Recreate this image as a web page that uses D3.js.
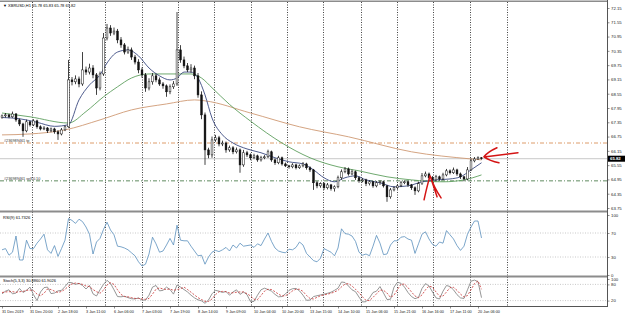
<!DOCTYPE html>
<html>
<head>
<meta charset="utf-8">
<script src="https://cdn.jsdelivr.net/npm/d3@7"></script>
<style>
body { margin: 0; background: #fff; }
svg { display: block; font-family: "Liberation Sans", Arial, sans-serif; }
</style>
</head>
<body>
<div id="chart"></div>
<script>
// XBRUSD H1 chart, one candle per 2 hours
const firstOpen = 67.55;
const closes = [
  67.62, 67.66, 67.58, 67.70, 67.45, 67.28, 66.99, 67.37, 67.24, 67.41,
  67.16, 67.07, 67.11, 66.99, 67.07, 66.95, 66.86, 67.03, 67.16, 69.13,
  69.05, 69.17, 68.96, 69.55, 69.46, 69.63, 69.34, 68.79, 69.38, 70.89,
  71.31, 71.10, 71.18, 70.81, 70.60, 70.30, 70.39, 70.09, 69.88, 69.55,
  69.34, 68.79, 69.05, 69.30, 69.13, 68.96, 68.88, 68.63, 68.84, 68.96,
  70.39, 69.97, 69.72, 69.55, 69.63, 69.30, 68.50, 67.66, 66.19, 65.98,
  66.61, 66.70, 66.44, 66.48, 66.19, 66.28, 66.11, 66.19, 65.56, 66.07,
  65.98, 65.86, 65.94, 65.77, 65.86, 65.90, 66.11, 65.77, 65.65, 65.86,
  65.60, 65.52, 65.48, 65.56, 65.44, 65.52, 65.60, 65.44, 65.35, 64.81,
  64.68, 64.77, 64.60, 64.72, 64.56, 64.64, 65.02, 65.27, 65.39, 65.18,
  65.27, 65.02, 64.89, 64.93, 64.77, 64.85, 64.68, 64.81, 64.85, 64.68,
  64.22, 64.51, 64.60, 64.68, 64.81, 64.85, 64.72, 64.60, 64.47, 64.77,
  65.10, 65.18, 65.02, 64.93, 65.06, 64.97, 65.14, 65.31, 65.23, 65.35,
  65.18, 65.06, 64.97, 65.35, 65.73, 65.81, 65.86, 65.82
];
// upper / lower shadows in cents
const wickUp = [
  6, 8, 5, 10, 4, 6, 5, 9, 4, 7, 5, 6, 8, 4, 6, 5, 7, 8, 6, 84,
  12, 15, 10, 75, 14, 18, 12, 8, 10, 21, 17, 12, 15, 9, 12, 8, 14, 10, 9, 12,
  10, 8, 15, 12, 9, 10, 8, 6, 10, 12, 159, 20, 14, 12, 16, 10, 12, 15, 10, 9,
  14, 12, 8, 10, 6, 9, 7, 10, 6, 12, 8, 6, 9, 5, 8, 7, 9, 5, 6, 8,
  5, 6, 4, 7, 5, 6, 8, 5, 6, 4, 7, 6, 5, 8, 4, 6, 9, 10, 8, 6,
  9, 5, 6, 7, 5, 6, 4, 7, 6, 5, 4, 8, 6, 7, 8, 6, 5, 4, 6, 9,
  12, 10, 6, 7, 8, 5, 9, 8, 6, 10, 5, 6, 4, 12, 10, 8, 6, 3
];
const wickDn = [
  5, 7, 6, 4, 8, 9, 25, 6, 7, 5, 8, 6, 5, 9, 6, 8, 25, 6, 5, 4,
  15, 10, 14, 8, 12, 10, 14, 29, 10, 8, 10, 12, 9, 14, 12, 10, 8, 12, 10, 14,
  12, 16, 10, 12, 10, 8, 12, 21, 10, 9, 8, 12, 10, 9, 12, 14, 12, 18, 63, 14,
  12, 8, 10, 9, 12, 8, 10, 7, 33, 8, 9, 10, 6, 8, 7, 6, 5, 8, 9, 6,
  7, 5, 8, 6, 7, 5, 6, 8, 9, 30, 10, 8, 9, 7, 8, 12, 6, 8, 6, 7,
  5, 9, 8, 6, 10, 7, 8, 6, 9, 7, 21, 8, 6, 7, 5, 6, 8, 9, 17, 6,
  5, 6, 8, 7, 6, 8, 5, 6, 7, 5, 8, 9, 10, 6, 5, 6, 4, 4
];

// moving averages, sampled at bar indexes
const fastBars = [0, 5, 10, 15, 19, 22, 25, 28, 30, 33, 36, 39, 42, 45, 48, 50, 52, 54, 56, 58, 60, 63, 66, 70, 74, 78, 82, 86, 89, 92, 95, 98, 101, 104, 108, 112, 116, 120, 124, 128, 131, 134, 137];
const fastVals = [67.55, 67.50, 67.35, 67.18, 67.25, 68.29, 68.92, 69.34, 69.84, 70.30, 70.39, 70.14, 69.63, 69.30, 69.13, 69.21, 69.46, 69.46, 69.21, 68.50, 67.53, 66.82, 66.48, 66.23, 66.07, 65.86, 65.69, 65.60, 65.35, 65.02, 64.85, 65.02, 65.10, 64.93, 64.81, 64.64, 64.68, 64.85, 64.93, 64.97, 65.06, 65.35, 65.65];
const midBars = [0, 8, 19, 24, 29, 33, 37, 42, 50, 54, 57, 60, 65, 71, 80, 88, 96, 102, 110, 117, 126, 132, 137];
const midVals = [67.74, 67.58, 67.32, 67.80, 68.42, 68.84, 69.21, 69.38, 69.38, 69.38, 69.21, 68.80, 68.10, 67.40, 66.48, 65.86, 65.48, 65.31, 65.06, 64.93, 64.85, 64.93, 65.14];
const slowBars = [0, 8, 18, 28, 37, 47, 55, 58, 71, 85, 99, 117, 134, 137];
const slowVals = [66.82, 66.86, 67.03, 67.45, 67.87, 68.12, 68.29, 68.25, 67.74, 67.16, 66.74, 66.11, 65.81, 65.77];

const rsiVals = [
  42, 44, 33, 38, 65, 25, 25, 58, 44, 44, 53, 60, 68, 42, 36, 49, 31, 44, 58, 94,
  91, 86, 93, 89, 80, 68, 35, 55, 61, 76, 88, 75, 67, 48, 47, 45, 42, 37, 32, 22,
  15, 18, 35, 63, 52, 38, 40, 50, 61, 50, 83, 58, 57, 57, 48, 40, 32, 33, 18, 30,
  38, 41, 39, 42, 46, 40, 50, 45, 53, 48, 49, 50, 46, 52, 49, 60, 70, 56, 45, 40,
  38, 37, 43, 42, 46, 55, 50, 36, 30, 24, 22, 28, 44, 41, 38, 32, 45, 77, 69, 68,
  65, 56, 38, 33, 35, 32, 48, 66, 53, 34, 35, 50, 57, 57, 63, 64, 60, 58, 36, 52,
  68, 72, 60, 51, 48, 55, 53, 74, 67, 60, 49, 41, 48, 68, 80, 90, 90, 61.7
];
const stochMain = [
  45, 55, 60, 45, 48, 65, 50, 58, 70, 42, 20, 52, 68, 70, 46, 48, 56, 58, 72, 88,
  86, 80, 84, 76, 63, 76, 45, 37, 60, 80, 95, 84, 60, 35, 34, 36, 31, 27, 26, 30,
  22, 22, 40, 70, 76, 56, 58, 70, 61, 44, 78, 70, 61, 52, 40, 30, 23, 19, 10, 22,
  45, 58, 55, 50, 54, 40, 52, 60, 43, 52, 42, 16, 17, 40, 60, 66, 61, 55, 43, 34,
  35, 45, 58, 64, 65, 56, 40, 21, 22, 35, 38, 41, 44, 47, 51, 58, 66, 89, 87, 74,
  60, 53, 33, 15, 16, 30, 50, 55, 72, 48, 24, 25, 70, 88, 84, 70, 50, 35, 27, 32,
  65, 83, 74, 52, 30, 26, 55, 76, 72, 60, 42, 30, 28, 60, 92, 96, 90, 30.9
];
const stochSignal = [
  50, 52, 53, 53, 51, 53, 54, 58, 59, 57, 44, 38, 47, 63, 61, 55, 50, 54, 62, 73,
  82, 85, 83, 80, 74, 72, 61, 53, 47, 59, 78, 86, 80, 60, 43, 35, 34, 31, 28, 28,
  26, 25, 28, 44, 62, 67, 63, 61, 63, 58, 61, 64, 70, 61, 51, 41, 31, 24, 17, 17,
  26, 42, 53, 54, 53, 48, 49, 51, 52, 52, 46, 37, 25, 24, 39, 55, 62, 61, 53, 44,
  37, 38, 46, 56, 62, 62, 54, 39, 28, 26, 32, 38, 41, 44, 47, 52, 58, 71, 81, 83,
  74, 62, 49, 34, 21, 20, 32, 45, 59, 58, 48, 32, 40, 61, 81, 81, 68, 52, 37, 31,
  41, 60, 74, 70, 52, 36, 37, 52, 68, 69, 58, 44, 33, 39, 60, 83, 93, 61.9
];

const priceTicks = [72.15, 71.55, 70.95, 70.35, 69.75, 69.15, 68.55, 67.95, 67.35, 66.75, 66.15, 65.55, 64.95, 64.35, 63.75];
const rsiTicks = [100, 70, 30, 0];
const stochTicks = [100, 80, 20];
const timeLabels = ['31 Dec 2019', '31 Dec 20:00', '2 Jan 18:00', '3 Jan 11:00', '6 Jan 06:00', '7 Jan 03:00',
  '7 Jan 19:00', '8 Jan 14:00', '9 Jan 09:00', '10 Jan 04:00', '10 Jan 20:00', '13 Jan 15:00',
  '14 Jan 10:00', '15 Jan 06:00', '15 Jan 21:00', '16 Jan 16:00', '17 Jan 11:00', '20 Jan 06:00'];
const timeLabelBars = [0, 8, 16, 24, 32, 40, 48, 56, 64, 72, 80, 88, 96, 104, 112, 120, 128, 136];
const gridBars = [8.6, 19, 29.4, 40, 50.3, 60.6, 71.1, 81.4, 91.7, 102.6, 112.9, 123.1, 133.7, 144.3];

const tpPrice = 66.48, openPrice = 64.89, bidPrice = 65.82;

// ---- layout
const W = 625, H = 317;
const axisX = 607;
const mainTop = 2, mainBot = 210.5;
const rsiTop = 212.5, rsiBot = 275.5;
const stoTop = 277.5, stoBot = 306;

const svg = d3.select('#chart').append('svg').attr('width', W).attr('height', H);
svg.append('rect').attr('width', W).attr('height', H).attr('fill', '#fff');

const x = d3.scaleLinear().domain([0, 137]).range([2, 481.5]);
const y = d3.scaleLinear().domain([63.75, 72.15]).range([208, 8]);
const yRsi = d3.scaleLinear().domain([0, 100]).range([275, 215]);
const ySto = d3.scaleLinear().domain([0, 100]).range([306, 279]);

const defs = svg.append('defs');
[['clipMain', mainTop, mainBot], ['clipRsi', rsiTop, rsiBot], ['clipSto', stoTop, stoBot]].forEach(([id, t, b]) => {
    defs.append('clipPath').attr('id', id).append('rect')
        .attr('x', 0).attr('y', t).attr('width', axisX).attr('height', b - t);
});

// vertical dotted grid
svg.append('g').selectAll('line')
    .data(gridBars)
    .join('line')
    .attr('x1', d => Math.round(x(d)) + 0.5)
    .attr('x2', d => Math.round(x(d)) + 0.5)
    .attr('y1', mainTop).attr('y2', stoBot)
    .attr('stroke', '#444')
    .attr('stroke-width', 1)
    .attr('stroke-dasharray', '1,1.5');

// main panel
const main = svg.append('g').attr('clip-path', 'url(#clipMain)');

// trade levels and bid line
main.append('line')
    .attr('x1', 0).attr('x2', axisX)
    .attr('y1', y(bidPrice)).attr('y2', y(bidPrice))
    .attr('stroke', '#c8c8c8').attr('stroke-width', 1);
main.append('line')
    .attr('x1', 0).attr('x2', axisX)
    .attr('y1', y(tpPrice)).attr('y2', y(tpPrice))
    .attr('stroke', '#d9915a').attr('stroke-width', 0.9)
    .attr('stroke-dasharray', '4,2,1,2');
main.append('line')
    .attr('x1', 0).attr('x2', axisX)
    .attr('y1', y(openPrice)).attr('y2', y(openPrice))
    .attr('stroke', '#4f7f4f').attr('stroke-width', 0.9)
    .attr('stroke-dasharray', '4,2,1,2');
main.append('text')
    .attr('x', 4).attr('y', y(tpPrice) - 1.2)
    .attr('font-size', 3.8).attr('fill', '#333')
    .text('#236989461 tp');
main.append('text')
    .attr('x', 4).attr('y', y(openPrice) - 1.2)
    .attr('font-size', 3.8).attr('fill', '#333')
    .text('#236989461 sell 0.10');

// moving averages
const maLine = d3.line()
    .x(d => x(d[0]))
    .y(d => y(d[1]))
    .curve(d3.curveMonotoneX);
[[slowBars, slowVals, '#cf9a74'], [midBars, midVals, '#5f9f5f'], [fastBars, fastVals, '#3b4a80']].forEach(([bars, vals, col]) => {
    main.append('path')
        .datum(bars.map((b, k) => [b, vals[k]]))
        .attr('d', maLine)
        .attr('fill', 'none')
        .attr('stroke', col)
        .attr('stroke-width', 0.9);
});

// candles
const candles = closes.map((c, i) => {
    const o = i === 0 ? firstOpen : closes[i - 1];
    return { i, o, c, h: Math.max(o, c) + wickUp[i] / 100, l: Math.min(o, c) - wickDn[i] / 100 };
});
main.append('g').selectAll('line')
    .data(candles)
    .join('line')
    .attr('x1', d => x(d.i)).attr('x2', d => x(d.i))
    .attr('y1', d => y(d.h)).attr('y2', d => y(d.l))
    .attr('stroke', '#111').attr('stroke-width', 0.8);
main.append('g').selectAll('rect')
    .data(candles)
    .join('rect')
    .attr('x', d => x(d.i) - 0.9)
    .attr('width', 1.8)
    .attr('y', d => y(Math.max(d.o, d.c)))
    .attr('height', d => Math.max(0.7, Math.abs(y(d.o) - y(d.c))))
    .attr('fill', d => d.c >= d.o ? '#fff' : '#111')
    .attr('stroke', '#111')
    .attr('stroke-width', 0.5);

// hand-drawn red arrows, anchored on price / bar
const arrows = [
    { bar: 137.7, price: 65.90, path: 'M13,-9 Q4,-5 0,0 Q6,4 15,6 M2,0 L34,-4' },
    { bar: 122.3, price: 65.10, path: 'M-6,24 Q-3,10 0,0 Q4,12 11,22 M1,3 L7,21' }
];
svg.append('g').selectAll('path')
    .data(arrows)
    .join('path')
    .attr('transform', d => `translate(${x(d.bar)},${y(d.price)})`)
    .attr('d', d => d.path)
    .attr('fill', 'none')
    .attr('stroke', '#d41414')
    .attr('stroke-width', 1.5)
    .attr('stroke-linecap', 'round')
    .attr('stroke-linejoin', 'round');

main.append('text')
    .attr('x', 3).attr('y', 6.5)
    .attr('font-size', 4).attr('fill', '#000')
    .text('\u25BC XBRUSD,H1  65.78 65.83 65.78 65.82');

// RSI panel
const rsiG = svg.append('g').attr('clip-path', 'url(#clipRsi)');
rsiG.selectAll('line.lvl')
    .data([70, 30])
    .join('line')
    .attr('class', 'lvl')
    .attr('x1', 0).attr('x2', axisX)
    .attr('y1', d => yRsi(d)).attr('y2', d => yRsi(d))
    .attr('stroke', '#bbb').attr('stroke-width', 0.8)
    .attr('stroke-dasharray', '1,1.5');
rsiG.append('path')
    .datum(rsiVals)
    .attr('d', d3.line().x((d, i) => x(i)).y(d => yRsi(d)))
    .attr('fill', 'none')
    .attr('stroke', '#5b8fbd')
    .attr('stroke-width', 0.8);
rsiG.append('text')
    .attr('x', 3).attr('y', 218.5)
    .attr('font-size', 4).attr('fill', '#000')
    .text('RSI(9) 61.7326');

// Stochastic panel
const stoG = svg.append('g').attr('clip-path', 'url(#clipSto)');
stoG.selectAll('line.lvl')
    .data([80, 20])
    .join('line')
    .attr('class', 'lvl')
    .attr('x1', 0).attr('x2', axisX)
    .attr('y1', d => ySto(d)).attr('y2', d => ySto(d))
    .attr('stroke', '#bbb').attr('stroke-width', 0.8)
    .attr('stroke-dasharray', '1,1.5');
stoG.append('path')
    .datum(stochMain)
    .attr('d', d3.line().x((d, i) => x(i)).y(d => ySto(d)))
    .attr('fill', 'none')
    .attr('stroke', '#8a8a8a')
    .attr('stroke-width', 0.9);
stoG.append('path')
    .datum(stochSignal)
    .attr('d', d3.line().x((d, i) => x(i)).y(d => ySto(d)))
    .attr('fill', 'none')
    .attr('stroke', '#c83232')
    .attr('stroke-width', 0.8)
    .attr('stroke-dasharray', '2,1.5');
stoG.append('text')
    .attr('x', 3).attr('y', 282)
    .attr('font-size', 4).attr('fill', '#000')
    .text('Stoch(5,3,3) 30.8860 61.9026');

// panel separators and frame
svg.append('rect').attr('x', 0).attr('y', 0.5).attr('width', axisX).attr('height', 1.5).attr('fill', '#8c8c8c');
svg.append('rect').attr('x', 0).attr('y', mainBot).attr('width', axisX).attr('height', 2).attr('fill', '#8c8c8c');
svg.append('rect').attr('x', 0).attr('y', rsiBot).attr('width', axisX).attr('height', 2).attr('fill', '#8c8c8c');
svg.append('line').attr('x1', 0).attr('x2', axisX).attr('y1', stoBot + 0.5).attr('y2', stoBot + 0.5)
    .attr('stroke', '#555').attr('stroke-width', 1);
svg.append('line').attr('x1', axisX + 0.5).attr('x2', axisX + 0.5).attr('y1', 0).attr('y2', stoBot + 1)
    .attr('stroke', '#555').attr('stroke-width', 1);

// right axes
function rightAxis(scale, ticks, fmt) {
    const g = svg.append('g')
        .attr('transform', `translate(${axisX + 0.5},0)`)
        .call(d3.axisRight(scale).tickValues(ticks).tickSize(2).tickPadding(1.5).tickFormat(fmt));
    g.select('.domain').remove();
    g.selectAll('line').attr('stroke', '#444').attr('stroke-width', 0.6);
    g.selectAll('text').attr('font-size', 4.3).attr('fill', '#222')
        .attr('font-family', '"Liberation Sans", Arial, sans-serif');
    return g;
}
rightAxis(y, priceTicks, d3.format('.2f'));
rightAxis(yRsi, rsiTicks, d3.format('d'));
rightAxis(ySto, stochTicks, d3.format('d'));

// current price box
svg.append('rect')
    .attr('x', axisX + 1).attr('y', y(bidPrice) - 3)
    .attr('width', 17).attr('height', 6)
    .attr('fill', '#000');
svg.append('text')
    .attr('x', axisX + 3).attr('y', y(bidPrice) + 1.6)
    .attr('font-size', 4.3).attr('font-weight', 'bold').attr('fill', '#fff')
    .text(bidPrice.toFixed(2));

// time axis
const tg = svg.append('g')
    .attr('transform', `translate(0,${stoBot + 0.5})`)
    .call(d3.axisBottom(x).tickValues(timeLabelBars).tickSize(2).tickPadding(2)
        .tickFormat((d, k) => timeLabels[k]));
tg.select('.domain').remove();
tg.selectAll('line').attr('stroke', '#444').attr('stroke-width', 0.6);
tg.selectAll('text')
    .attr('text-anchor', 'start')
    .attr('dx', '-0.5')
    .attr('font-size', 3.8).attr('fill', '#222')
    .attr('font-family', '"Liberation Sans", Arial, sans-serif');
</script>
</body>
</html>
